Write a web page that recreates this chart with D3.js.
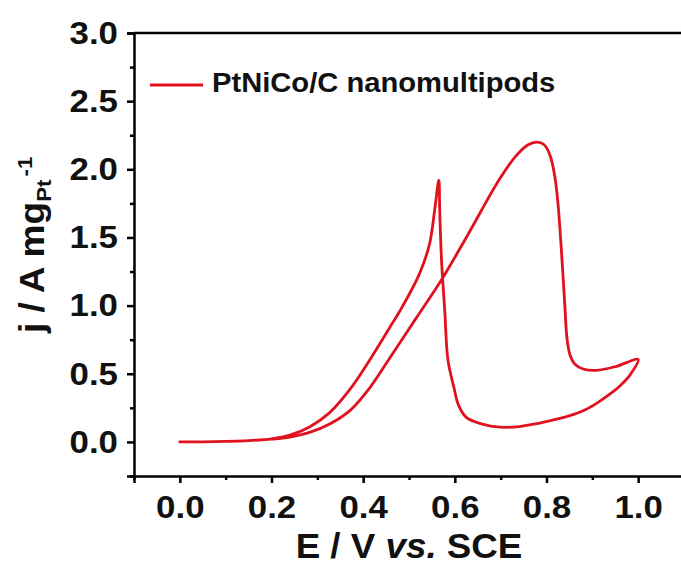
<!DOCTYPE html>
<html>
<head>
<meta charset="utf-8">
<script src="https://cdn.jsdelivr.net/npm/d3@7/dist/d3.min.js"></script>
<style>
  html, body { margin: 0; padding: 0; background: #fff; }
  svg { display: block; }
  text { font-family: "Liberation Sans", Arial, Helvetica, sans-serif; font-weight: bold; fill: #111; }
</style>
</head>
<body>
<svg id="chart" width="681" height="565"></svg>
<script>
// Cyclic voltammogram, PtNiCo/C nanomultipods: potential E (V vs. SCE) and mass activity j (A mg_Pt^-1)
// Anodic (forward) sweep 0 -> 1.0 V
const forwardE = [0.00, 0.05, 0.10, 0.15, 0.20, 0.24, 0.283, 0.327, 0.371, 0.414, 0.458, 0.516, 0.571, 0.625, 0.698, 0.734, 0.760, 0.778, 0.795, 0.808, 0.818, 0.825, 0.833, 0.840, 0.845, 0.852, 0.862, 0.880, 0.909, 0.953, 1.000];
const forwardJ = [0.000, 0.001, 0.004, 0.010, 0.020, 0.035, 0.070, 0.132, 0.230, 0.395, 0.615, 0.910, 1.190, 1.500, 1.930, 2.100, 2.180, 2.200, 2.180, 2.100, 1.950, 1.750, 1.380, 1.000, 0.750, 0.630, 0.570, 0.535, 0.525, 0.555, 0.605];
// Cathodic (backward) sweep 1.0 -> 0 V
const backwardE = [0.982, 0.960, 0.938, 0.910, 0.887, 0.858, 0.829, 0.780, 0.740, 0.698, 0.660, 0.625, 0.608, 0.598, 0.585, 0.578, 0.571, 0.567, 0.565, 0.556, 0.545, 0.523, 0.480, 0.458, 0.414, 0.371, 0.327, 0.283, 0.240, 0.200, 0.150, 0.100, 0.050, 0.000];
const backwardJ = [0.490, 0.410, 0.350, 0.285, 0.240, 0.200, 0.172, 0.135, 0.113, 0.108, 0.130, 0.180, 0.270, 0.400, 0.600, 0.965, 1.330, 1.700, 1.920, 1.700, 1.455, 1.235, 0.960, 0.840, 0.600, 0.385, 0.215, 0.110, 0.050, 0.023, 0.010, 0.004, 0.001, 0.000];

const xMajor = [0.0, 0.2, 0.4, 0.6, 0.8, 1.0];
const xMinor = [-0.1, 0.1, 0.3, 0.5, 0.7, 0.9, 1.1];
const yMajor = [0.0, 0.5, 1.0, 1.5, 2.0, 2.5, 3.0];
const yMinor = [-0.25, 0.25, 0.75, 1.25, 1.75, 2.25, 2.75];

const seriesName = "PtNiCo/C nanomultipods";
const lineColor = "#e1121f";

const svg = d3.select("#chart");
const plotL = 134, plotR = 684, plotT = 33, plotB = 476;
const wide = 1.09; // horizontal glyph stretch of the lettering

const x = d3.scaleLinear().domain([-0.1, 1.1]).range([plotL, plotR]);
const y = d3.scaleLinear().domain([-0.25, 3.0]).range([plotB, plotT]);

// frame: top and right edges
svg.append("path")
  .attr("d", `M${plotL},${plotT}H${plotR}V${plotB}`)
  .attr("fill", "none").attr("stroke", "#000").attr("stroke-width", 2.5);

// left axis
const gy = svg.append("g").attr("transform", `translate(${plotL},0)`)
  .call(d3.axisLeft(y).tickValues(yMajor).tickFormat(d3.format(".1f")).tickSize(7).tickPadding(9));
svg.append("g").attr("transform", `translate(${plotL},0)`)
  .call(d3.axisLeft(y).tickValues(yMinor).tickFormat("").tickSize(4))
  .call(g => g.select(".domain").remove());

// bottom axis
const gx = svg.append("g").attr("transform", `translate(0,${plotB})`)
  .call(d3.axisBottom(x).tickValues(xMajor).tickFormat(d3.format(".1f")).tickSize(7).tickPadding(12));
svg.append("g").attr("transform", `translate(0,${plotB})`)
  .call(d3.axisBottom(x).tickValues(xMinor).tickFormat("").tickSize(4))
  .call(g => g.select(".domain").remove());

svg.selectAll(".domain").attr("stroke", "#000").attr("stroke-width", 2.5);
svg.selectAll(".tick line").attr("stroke", "#000").attr("stroke-width", 2.5);
svg.selectAll(".tick text")
  .attr("font-family", null).attr("font-size", null)
  .style("font-size", "32px").style("fill", "#111");
gy.selectAll(".tick text").attr("x", -16 / wide).attr("transform", `scale(${wide},1)`);
gx.selectAll(".tick text").attr("transform", `scale(${wide},1)`);

// CV loop
const pts = forwardE.map((e, i) => [e, forwardJ[i]])
  .concat(backwardE.map((e, i) => [e, backwardJ[i]]));
const line = d3.line().x(d => x(d[0])).y(d => y(d[1])).curve(d3.curveCatmullRom.alpha(0.5));
svg.append("path")
  .attr("d", line(pts))
  .attr("fill", "none").attr("stroke", lineColor).attr("stroke-width", 2.8)
  .attr("stroke-linejoin", "round").attr("stroke-linecap", "round");

// legend
svg.append("line").attr("x1", 150).attr("x2", 203).attr("y1", 85).attr("y2", 85)
  .attr("stroke", lineColor).attr("stroke-width", 2.8);
svg.append("text").attr("transform", "translate(212,92) scale(1.08,1)")
  .style("font-size", "27px").text(seriesName);

// axis titles
const xt = svg.append("text").attr("transform", "translate(409,558) scale(1.05,1)")
  .attr("text-anchor", "middle").style("font-size", "35px");
xt.append("tspan").text("E / V ");
xt.append("tspan").style("font-style", "italic").text("vs.");
xt.append("tspan").text(" SCE");

const yt = svg.append("text").attr("transform", "translate(44,333) rotate(-90) scale(1.06,1)")
  .style("font-size", "35px");
yt.append("tspan").text("j / A mg");
yt.append("tspan").attr("dy", 7).style("font-size", "21px").text("Pt");
yt.append("tspan").attr("dy", -19).attr("dx", 3).style("font-size", "21px").text("-1");
</script>
</body>
</html>
